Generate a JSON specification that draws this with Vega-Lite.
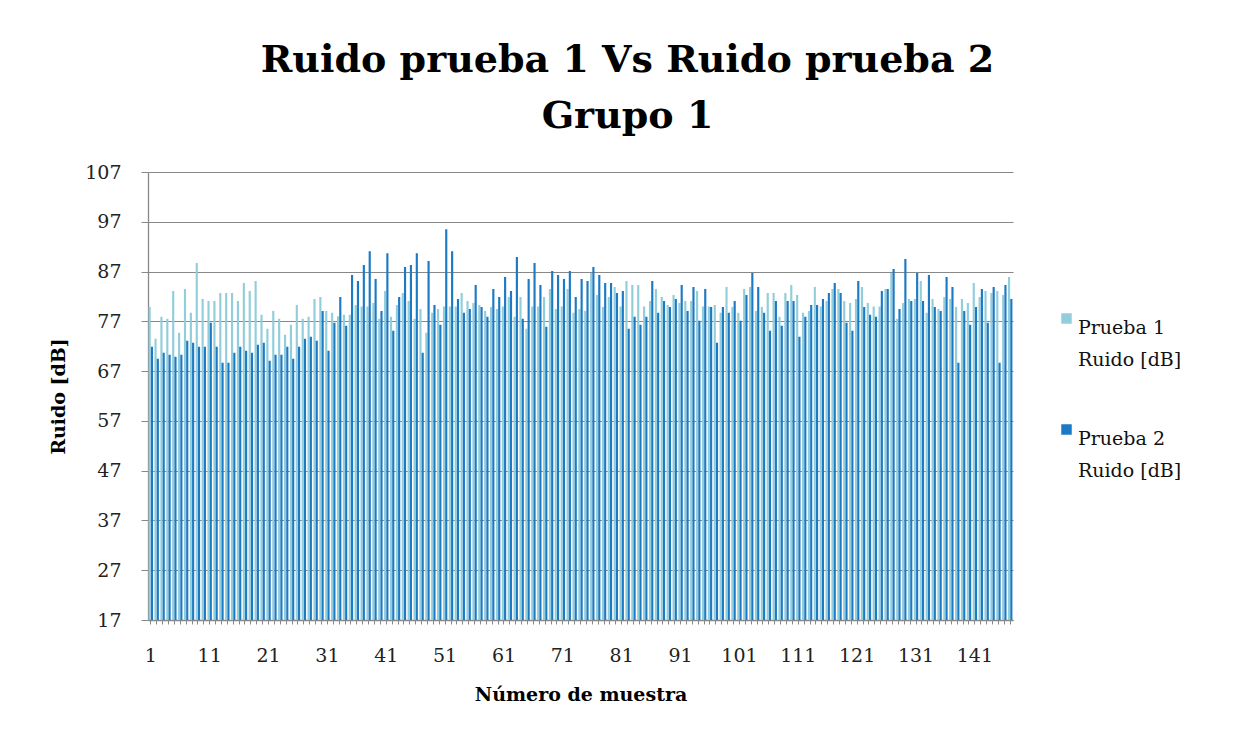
{
"$schema": "https://vega.github.io/schema/vega-lite/v6.json",
"width": 865, "height": 448,
"autosize": {"type": "none"},
"padding": {"left": 148, "top": 172, "right": 234, "bottom": 122},
"background": "white",
"title": {"text": ["Ruido prueba 1 Vs Ruido prueba 2", "Grupo 1"], "font": "DejaVu Serif", "fontSize": 38, "fontWeight": "bold", "color": "#000000", "lineHeight": 56, "anchor": "middle", "dx": 47, "offset": 27},
"datasets": {"d": [
{"n":1,"s":"Prueba 1","v":79.9},{"n":1,"s":"Prueba 2","v":71.9},
{"n":2,"s":"Prueba 1","v":73.5},{"n":2,"s":"Prueba 2","v":69.5},
{"n":3,"s":"Prueba 1","v":77.9},{"n":3,"s":"Prueba 2","v":70.7},
{"n":4,"s":"Prueba 1","v":77.5},{"n":4,"s":"Prueba 2","v":70.3},
{"n":5,"s":"Prueba 1","v":83.1},{"n":5,"s":"Prueba 2","v":69.9},
{"n":6,"s":"Prueba 1","v":74.7},{"n":6,"s":"Prueba 2","v":70.3},
{"n":7,"s":"Prueba 1","v":83.5},{"n":7,"s":"Prueba 2","v":73.1},
{"n":8,"s":"Prueba 1","v":78.7},{"n":8,"s":"Prueba 2","v":72.7},
{"n":9,"s":"Prueba 1","v":88.7},{"n":9,"s":"Prueba 2","v":71.9},
{"n":10,"s":"Prueba 1","v":81.5},{"n":10,"s":"Prueba 2","v":71.9},
{"n":11,"s":"Prueba 1","v":81.1},{"n":11,"s":"Prueba 2","v":76.7},
{"n":12,"s":"Prueba 1","v":81.1},{"n":12,"s":"Prueba 2","v":71.9},
{"n":13,"s":"Prueba 1","v":82.7},{"n":13,"s":"Prueba 2","v":68.7},
{"n":14,"s":"Prueba 1","v":82.7},{"n":14,"s":"Prueba 2","v":68.7},
{"n":15,"s":"Prueba 1","v":82.7},{"n":15,"s":"Prueba 2","v":70.7},
{"n":16,"s":"Prueba 1","v":81.1},{"n":16,"s":"Prueba 2","v":71.9},
{"n":17,"s":"Prueba 1","v":84.7},{"n":17,"s":"Prueba 2","v":71.1},
{"n":18,"s":"Prueba 1","v":83.1},{"n":18,"s":"Prueba 2","v":70.7},
{"n":19,"s":"Prueba 1","v":85.1},{"n":19,"s":"Prueba 2","v":72.3},
{"n":20,"s":"Prueba 1","v":78.3},{"n":20,"s":"Prueba 2","v":72.7},
{"n":21,"s":"Prueba 1","v":75.5},{"n":21,"s":"Prueba 2","v":69.1},
{"n":22,"s":"Prueba 1","v":79.1},{"n":22,"s":"Prueba 2","v":70.3},
{"n":23,"s":"Prueba 1","v":77.5},{"n":23,"s":"Prueba 2","v":70.3},
{"n":24,"s":"Prueba 1","v":74.3},{"n":24,"s":"Prueba 2","v":71.9},
{"n":25,"s":"Prueba 1","v":76.3},{"n":25,"s":"Prueba 2","v":69.5},
{"n":26,"s":"Prueba 1","v":80.3},{"n":26,"s":"Prueba 2","v":71.9},
{"n":27,"s":"Prueba 1","v":77.5},{"n":27,"s":"Prueba 2","v":73.5},
{"n":28,"s":"Prueba 1","v":77.9},{"n":28,"s":"Prueba 2","v":73.9},
{"n":29,"s":"Prueba 1","v":81.5},{"n":29,"s":"Prueba 2","v":73.1},
{"n":30,"s":"Prueba 1","v":81.9},{"n":30,"s":"Prueba 2","v":79.1},
{"n":31,"s":"Prueba 1","v":79.1},{"n":31,"s":"Prueba 2","v":71.1},
{"n":32,"s":"Prueba 1","v":78.7},{"n":32,"s":"Prueba 2","v":76.7},
{"n":33,"s":"Prueba 1","v":78.0},{"n":33,"s":"Prueba 2","v":81.9},
{"n":34,"s":"Prueba 1","v":78.3},{"n":34,"s":"Prueba 2","v":76.1},
{"n":35,"s":"Prueba 1","v":78.3},{"n":35,"s":"Prueba 2","v":86.3},
{"n":36,"s":"Prueba 1","v":80.3},{"n":36,"s":"Prueba 2","v":85.1},
{"n":37,"s":"Prueba 1","v":80.0},{"n":37,"s":"Prueba 2","v":88.3},
{"n":38,"s":"Prueba 1","v":80.0},{"n":38,"s":"Prueba 2","v":91.1},
{"n":39,"s":"Prueba 1","v":80.7},{"n":39,"s":"Prueba 2","v":85.5},
{"n":40,"s":"Prueba 1","v":77.5},{"n":40,"s":"Prueba 2","v":79.1},
{"n":41,"s":"Prueba 1","v":83.1},{"n":41,"s":"Prueba 2","v":90.7},
{"n":42,"s":"Prueba 1","v":77.9},{"n":42,"s":"Prueba 2","v":75.1},
{"n":43,"s":"Prueba 1","v":80.3},{"n":43,"s":"Prueba 2","v":81.9},
{"n":44,"s":"Prueba 1","v":82.7},{"n":44,"s":"Prueba 2","v":87.9},
{"n":45,"s":"Prueba 1","v":81.1},{"n":45,"s":"Prueba 2","v":88.3},
{"n":46,"s":"Prueba 1","v":77.5},{"n":46,"s":"Prueba 2","v":90.7},
{"n":47,"s":"Prueba 1","v":79.5},{"n":47,"s":"Prueba 2","v":70.7},
{"n":48,"s":"Prueba 1","v":74.7},{"n":48,"s":"Prueba 2","v":89.1},
{"n":49,"s":"Prueba 1","v":78.7},{"n":49,"s":"Prueba 2","v":80.3},
{"n":50,"s":"Prueba 1","v":79.5},{"n":50,"s":"Prueba 2","v":76.3},
{"n":51,"s":"Prueba 1","v":80.0},{"n":51,"s":"Prueba 2","v":95.5},
{"n":52,"s":"Prueba 1","v":80.0},{"n":52,"s":"Prueba 2","v":91.1},
{"n":53,"s":"Prueba 1","v":80.0},{"n":53,"s":"Prueba 2","v":81.5},
{"n":54,"s":"Prueba 1","v":82.7},{"n":54,"s":"Prueba 2","v":78.7},
{"n":55,"s":"Prueba 1","v":81.1},{"n":55,"s":"Prueba 2","v":79.5},
{"n":56,"s":"Prueba 1","v":80.7},{"n":56,"s":"Prueba 2","v":84.3},
{"n":57,"s":"Prueba 1","v":80.3},{"n":57,"s":"Prueba 2","v":79.9},
{"n":58,"s":"Prueba 1","v":79.1},{"n":58,"s":"Prueba 2","v":77.9},
{"n":59,"s":"Prueba 1","v":79.9},{"n":59,"s":"Prueba 2","v":83.5},
{"n":60,"s":"Prueba 1","v":79.5},{"n":60,"s":"Prueba 2","v":81.9},
{"n":61,"s":"Prueba 1","v":80.0},{"n":61,"s":"Prueba 2","v":85.9},
{"n":62,"s":"Prueba 1","v":81.9},{"n":62,"s":"Prueba 2","v":83.1},
{"n":63,"s":"Prueba 1","v":77.9},{"n":63,"s":"Prueba 2","v":89.9},
{"n":64,"s":"Prueba 1","v":81.9},{"n":64,"s":"Prueba 2","v":77.5},
{"n":65,"s":"Prueba 1","v":75.5},{"n":65,"s":"Prueba 2","v":85.5},
{"n":66,"s":"Prueba 1","v":80.0},{"n":66,"s":"Prueba 2","v":88.7},
{"n":67,"s":"Prueba 1","v":80.0},{"n":67,"s":"Prueba 2","v":84.3},
{"n":68,"s":"Prueba 1","v":81.9},{"n":68,"s":"Prueba 2","v":75.9},
{"n":69,"s":"Prueba 1","v":83.5},{"n":69,"s":"Prueba 2","v":87.1},
{"n":70,"s":"Prueba 1","v":79.5},{"n":70,"s":"Prueba 2","v":86.3},
{"n":71,"s":"Prueba 1","v":80.0},{"n":71,"s":"Prueba 2","v":85.5},
{"n":72,"s":"Prueba 1","v":83.5},{"n":72,"s":"Prueba 2","v":87.1},
{"n":73,"s":"Prueba 1","v":78.7},{"n":73,"s":"Prueba 2","v":81.9},
{"n":74,"s":"Prueba 1","v":79.5},{"n":74,"s":"Prueba 2","v":85.5},
{"n":75,"s":"Prueba 1","v":79.1},{"n":75,"s":"Prueba 2","v":85.1},
{"n":76,"s":"Prueba 1","v":86.7},{"n":76,"s":"Prueba 2","v":87.9},
{"n":77,"s":"Prueba 1","v":82.3},{"n":77,"s":"Prueba 2","v":86.3},
{"n":78,"s":"Prueba 1","v":79.9},{"n":78,"s":"Prueba 2","v":84.7},
{"n":79,"s":"Prueba 1","v":81.9},{"n":79,"s":"Prueba 2","v":84.7},
{"n":80,"s":"Prueba 1","v":83.9},{"n":80,"s":"Prueba 2","v":82.7},
{"n":81,"s":"Prueba 1","v":80.0},{"n":81,"s":"Prueba 2","v":83.1},
{"n":82,"s":"Prueba 1","v":85.1},{"n":82,"s":"Prueba 2","v":75.5},
{"n":83,"s":"Prueba 1","v":84.3},{"n":83,"s":"Prueba 2","v":77.9},
{"n":84,"s":"Prueba 1","v":84.3},{"n":84,"s":"Prueba 2","v":76.3},
{"n":85,"s":"Prueba 1","v":80.0},{"n":85,"s":"Prueba 2","v":77.9},
{"n":86,"s":"Prueba 1","v":81.1},{"n":86,"s":"Prueba 2","v":85.1},
{"n":87,"s":"Prueba 1","v":83.5},{"n":87,"s":"Prueba 2","v":78.7},
{"n":88,"s":"Prueba 1","v":81.9},{"n":88,"s":"Prueba 2","v":81.1},
{"n":89,"s":"Prueba 1","v":80.3},{"n":89,"s":"Prueba 2","v":79.9},
{"n":90,"s":"Prueba 1","v":82.3},{"n":90,"s":"Prueba 2","v":81.5},
{"n":91,"s":"Prueba 1","v":80.7},{"n":91,"s":"Prueba 2","v":84.3},
{"n":92,"s":"Prueba 1","v":81.1},{"n":92,"s":"Prueba 2","v":79.1},
{"n":93,"s":"Prueba 1","v":81.1},{"n":93,"s":"Prueba 2","v":83.9},
{"n":94,"s":"Prueba 1","v":83.1},{"n":94,"s":"Prueba 2","v":77.1},
{"n":95,"s":"Prueba 1","v":80.0},{"n":95,"s":"Prueba 2","v":83.5},
{"n":96,"s":"Prueba 1","v":80.0},{"n":96,"s":"Prueba 2","v":79.9},
{"n":97,"s":"Prueba 1","v":80.3},{"n":97,"s":"Prueba 2","v":72.7},
{"n":98,"s":"Prueba 1","v":78.7},{"n":98,"s":"Prueba 2","v":79.9},
{"n":99,"s":"Prueba 1","v":83.9},{"n":99,"s":"Prueba 2","v":78.7},
{"n":100,"s":"Prueba 1","v":79.9},{"n":100,"s":"Prueba 2","v":81.1},
{"n":101,"s":"Prueba 1","v":78.7},{"n":101,"s":"Prueba 2","v":77.1},
{"n":102,"s":"Prueba 1","v":83.5},{"n":102,"s":"Prueba 2","v":82.3},
{"n":103,"s":"Prueba 1","v":83.9},{"n":103,"s":"Prueba 2","v":86.7},
{"n":104,"s":"Prueba 1","v":79.1},{"n":104,"s":"Prueba 2","v":83.9},
{"n":105,"s":"Prueba 1","v":79.9},{"n":105,"s":"Prueba 2","v":78.7},
{"n":106,"s":"Prueba 1","v":82.7},{"n":106,"s":"Prueba 2","v":75.1},
{"n":107,"s":"Prueba 1","v":82.7},{"n":107,"s":"Prueba 2","v":81.1},
{"n":108,"s":"Prueba 1","v":77.9},{"n":108,"s":"Prueba 2","v":76.1},
{"n":109,"s":"Prueba 1","v":82.7},{"n":109,"s":"Prueba 2","v":81.1},
{"n":110,"s":"Prueba 1","v":84.3},{"n":110,"s":"Prueba 2","v":81.1},
{"n":111,"s":"Prueba 1","v":82.3},{"n":111,"s":"Prueba 2","v":73.9},
{"n":112,"s":"Prueba 1","v":78.7},{"n":112,"s":"Prueba 2","v":77.9},
{"n":113,"s":"Prueba 1","v":79.1},{"n":113,"s":"Prueba 2","v":80.3},
{"n":114,"s":"Prueba 1","v":83.9},{"n":114,"s":"Prueba 2","v":80.3},
{"n":115,"s":"Prueba 1","v":80.0},{"n":115,"s":"Prueba 2","v":81.5},
{"n":116,"s":"Prueba 1","v":81.1},{"n":116,"s":"Prueba 2","v":82.7},
{"n":117,"s":"Prueba 1","v":83.5},{"n":117,"s":"Prueba 2","v":84.7},
{"n":118,"s":"Prueba 1","v":83.5},{"n":118,"s":"Prueba 2","v":82.7},
{"n":119,"s":"Prueba 1","v":81.1},{"n":119,"s":"Prueba 2","v":76.7},
{"n":120,"s":"Prueba 1","v":80.7},{"n":120,"s":"Prueba 2","v":75.1},
{"n":121,"s":"Prueba 1","v":81.5},{"n":121,"s":"Prueba 2","v":85.1},
{"n":122,"s":"Prueba 1","v":83.9},{"n":122,"s":"Prueba 2","v":79.9},
{"n":123,"s":"Prueba 1","v":80.7},{"n":123,"s":"Prueba 2","v":78.3},
{"n":124,"s":"Prueba 1","v":80.0},{"n":124,"s":"Prueba 2","v":77.9},
{"n":125,"s":"Prueba 1","v":80.0},{"n":125,"s":"Prueba 2","v":83.1},
{"n":126,"s":"Prueba 1","v":83.5},{"n":126,"s":"Prueba 2","v":83.5},
{"n":127,"s":"Prueba 1","v":86.7},{"n":127,"s":"Prueba 2","v":87.5},
{"n":128,"s":"Prueba 1","v":77.5},{"n":128,"s":"Prueba 2","v":79.5},
{"n":129,"s":"Prueba 1","v":80.7},{"n":129,"s":"Prueba 2","v":89.5},
{"n":130,"s":"Prueba 1","v":81.5},{"n":130,"s":"Prueba 2","v":81.1},
{"n":131,"s":"Prueba 1","v":81.5},{"n":131,"s":"Prueba 2","v":86.7},
{"n":132,"s":"Prueba 1","v":85.1},{"n":132,"s":"Prueba 2","v":81.1},
{"n":133,"s":"Prueba 1","v":78.7},{"n":133,"s":"Prueba 2","v":86.3},
{"n":134,"s":"Prueba 1","v":81.5},{"n":134,"s":"Prueba 2","v":79.9},
{"n":135,"s":"Prueba 1","v":79.5},{"n":135,"s":"Prueba 2","v":79.1},
{"n":136,"s":"Prueba 1","v":81.9},{"n":136,"s":"Prueba 2","v":85.9},
{"n":137,"s":"Prueba 1","v":81.5},{"n":137,"s":"Prueba 2","v":83.9},
{"n":138,"s":"Prueba 1","v":79.9},{"n":138,"s":"Prueba 2","v":68.7},
{"n":139,"s":"Prueba 1","v":81.5},{"n":139,"s":"Prueba 2","v":79.1},
{"n":140,"s":"Prueba 1","v":80.7},{"n":140,"s":"Prueba 2","v":76.3},
{"n":141,"s":"Prueba 1","v":84.7},{"n":141,"s":"Prueba 2","v":79.9},
{"n":142,"s":"Prueba 1","v":81.9},{"n":142,"s":"Prueba 2","v":83.5},
{"n":143,"s":"Prueba 1","v":83.1},{"n":143,"s":"Prueba 2","v":76.7},
{"n":144,"s":"Prueba 1","v":82.7},{"n":144,"s":"Prueba 2","v":83.9},
{"n":145,"s":"Prueba 1","v":83.1},{"n":145,"s":"Prueba 2","v":68.7},
{"n":146,"s":"Prueba 1","v":82.3},{"n":146,"s":"Prueba 2","v":84.3},
{"n":147,"s":"Prueba 1","v":85.9},{"n":147,"s":"Prueba 2","v":81.5}
]},
"data": {"name": "d"},
"mark": {"type": "bar", "clip": true},
"encoding": {
  "x": {"field": "n", "type": "ordinal", "title": "Número de muestra",
        "scale": {"paddingInner": 0.25, "paddingOuter": 0.1},
        "axis": {"labelAngle": 0, "labelExpr": "(datum.value - 1) % 10 == 0 ? datum.label : ''", "tickSize": 4, "labelPadding": 22, "titlePadding": 20, "labelOverlap": false}},
  "xOffset": {"field": "s", "type": "nominal", "scale": {"paddingInner": 0.05}},
  "y": {"field": "v", "type": "quantitative", "title": "Ruido [dB]",
        "scale": {"domain": [17, 107], "zero": false, "nice": false},
        "axis": {"values": [17, 27, 37, 47, 57, 67, 77, 87, 97, 107], "tickSize": 7, "labelPadding": 20, "titlePadding": 16, "grid": true}},
  "y2": {"datum": 17},
  "color": {"field": "s", "type": "nominal",
            "scale": {"domain": ["Prueba 1", "Prueba 2"], "range": ["#92CDDC", "#1C7AC4"]},
            "legend": {"title": null, "orient": "none", "legendX": 909, "legendY": 137,
                       "symbolType": "square", "symbolSize": 110, "symbolStrokeWidth": 0,
                       "labelExpr": "datum.label == 'Prueba 1' ? ['Prueba 1', 'Ruido [dB]'] : ['Prueba 2', 'Ruido  [dB]']",
                       "labelFont": "DejaVu Serif", "labelFontSize": 19, "labelColor": "#111111",
                       "labelBaseline": "top", "labelOffset": 2, "rowPadding": 50,
                       "encode": {"labels": {"update": {"lineHeight": {"value": 32}}}}}}
},
"config": {
  "view": {"stroke": null},
  "axis": {"labelFont": "DejaVu Serif", "labelFontSize": 19, "labelColor": "#222222",
           "titleFont": "DejaVu Serif", "titleFontSize": 19, "titleFontWeight": "bold", "titleColor": "#000000",
           "domainColor": "#888888", "tickColor": "#888888", "gridColor": "#888888", "gridWidth": 1, "domainWidth": 1.3}
}
}
